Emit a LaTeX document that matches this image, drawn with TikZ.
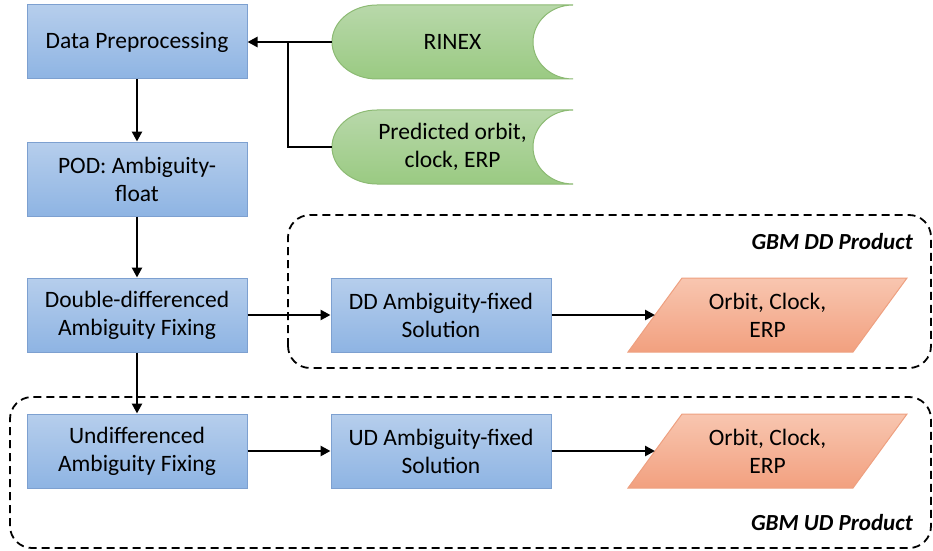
\documentclass[tikz,border=0pt]{standalone}
\usepackage{fontspec}
\setmainfont{Carlito}
\usetikzlibrary{arrows.meta}
\definecolor{bluetop}{RGB}{182,206,236}
\definecolor{bluebot}{RGB}{142,180,227}
\definecolor{blueline}{RGB}{125,160,208}
\definecolor{greentop}{RGB}{184,216,170}
\definecolor{greenbot}{RGB}{154,202,130}
\definecolor{greenline}{RGB}{140,186,115}
\definecolor{orangetop}{RGB}{248,198,176}
\definecolor{orangebot}{RGB}{242,160,127}
\definecolor{orangeline}{RGB}{238,160,128}
\tikzset{
  txt/.style={font=\fontsize{23.5}{28}\selectfont, align=center, inner sep=0pt},
  procbox/.style={txt, rectangle, draw=blueline, line width=1pt,
    top color=bluetop, bottom color=bluebot, minimum width=220pt, minimum height=74pt},
  flow/.style={line width=2.8pt, -{Triangle[length=10pt,width=10pt]}},
  plainline/.style={line width=2.8pt},
  groupbox/.style={draw, line width=1.8pt, dash pattern=on 8pt off 5pt, rounded corners=22pt},
  grouplabel/.style={font=\fontsize{23}{28}\selectfont\bfseries\itshape, inner sep=0pt, anchor=east},
  datashape/.style={draw=greenline, line width=1pt, top color=greentop, bottom color=greenbot},
  outshape/.style={draw=orangeline, line width=1pt, top color=orangetop, bottom color=orangebot}
}
\begin{document}
\begin{tikzpicture}[x=1pt,y=1pt]
\useasboundingbox (0,0) rectangle (933,550);
% groups
\draw[groupbox] (288,182) rectangle (931,335);
\draw[groupbox] (10,2) rectangle (931,153);
\node[grouplabel] (ddlabel) at (913,308) {GBM DD Product};
\node[grouplabel] (udlabel) at (913,27) {GBM UD Product};
% process boxes
\node[procbox] (dp) at (137,508) {Data Preprocessing};
\node[procbox] (pod) at (137,371) {POD: Ambiguity-\\float};
\node[procbox] (ddfix) at (137,235) {Double-differenced\\Ambiguity Fixing};
\node[procbox] (udfix) at (137,99) {Undifferenced\\Ambiguity Fixing};
\node[procbox] (ddsol) at (441,235) {DD Ambiguity-fixed\\Solution};
\node[procbox] (udsol) at (441,99) {UD Ambiguity-fixed\\Solution};
% stored data shapes
\path[datashape] (377,545) -- (573,545) arc[start angle=90, end angle=270, x radius=40, y radius=37]
  -- (377,471) arc[start angle=270, end angle=90, x radius=45, y radius=37] -- cycle;
\node[txt, minimum width=241pt, minimum height=74pt] (rinex) at (452.5,508) {RINEX};
\path[datashape] (377,440) -- (573,440) arc[start angle=90, end angle=270, x radius=40, y radius=37]
  -- (377,366) arc[start angle=270, end angle=90, x radius=45, y radius=37] -- cycle;
\node[txt, minimum width=241pt, minimum height=74pt] (pred) at (452.5,403) {Predicted orbit,\\clock, ERP};
% output parallelograms
\path[outshape] (628,198) -- (853,198) -- (907,272) -- (682,272) -- cycle;
\node[txt] (ddout) at (767.5,235) {Orbit, Clock,\\ERP};
\coordinate (ddoutW) at (655,235);
\path[outshape] (628,62) -- (853,62) -- (907,136) -- (682,136) -- cycle;
\node[txt] (udout) at (767.5,99) {Orbit, Clock,\\ERP};
\coordinate (udoutW) at (655,99);
% connectors
\coordinate (junc) at (288,508);
\draw[flow] (rinex.west) -- (dp.east);
\draw[plainline] (pred.west) -| (junc);
\draw[flow] (dp.south) -- (pod.north);
\draw[flow] (pod.south) -- (ddfix.north);
\draw[flow] (ddfix.south) -- (udfix.north);
\draw[flow] (ddfix.east) -- (ddsol.west);
\draw[flow] (udfix.east) -- (udsol.west);
\draw[flow] (ddsol.east) -- (ddoutW);
\draw[flow] (udsol.east) -- (udoutW);
\end{tikzpicture}
\end{document}
